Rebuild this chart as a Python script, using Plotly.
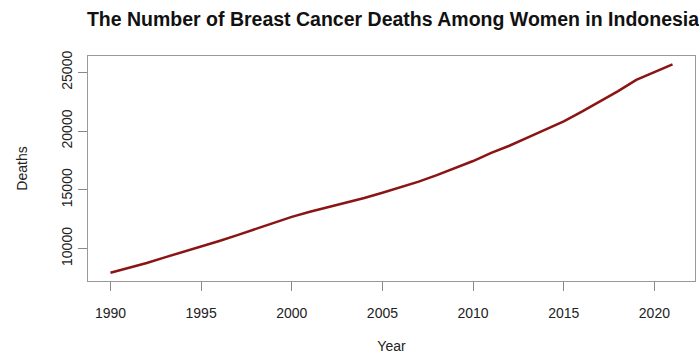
import plotly.graph_objects as go

years = list(range(1990, 2022))
deaths = [7950, 8350, 8770, 9250, 9700, 10150, 10650, 11150, 11650, 12200,
          12700, 13130, 13500, 13900, 14300, 14750, 15200, 15700, 16250, 16850,
          17450, 18150, 18750, 19450, 20150, 20820, 21650, 22500, 23400, 24350,
          25020, 25680]
x_ticks = [1990, 1995, 2000, 2005, 2010, 2015, 2020]
y_ticks = [10000, 15000, 20000, 25000]

span_x = years[-1] - years[0]
span_y = max(deaths) - min(deaths)
x_range = [years[0] - 0.04 * span_x, years[-1] + 0.04 * span_x]
y_range = [min(deaths) - 0.04 * span_y, max(deaths) + 0.04 * span_y]

fig = go.Figure()
fig.add_trace(go.Scatter(x=years, y=deaths, mode="lines",
                         line=dict(color="#8B1414", width=2.5), showlegend=False))

axis_common = dict(showline=True, mirror=True, linecolor="#999999", linewidth=1,
                   ticks="outside", ticklen=9, tickcolor="#888888", tickwidth=1,
                   showgrid=False, zeroline=False, tickformat="d",
                   tickfont=dict(family="Liberation Sans, Arial", size=14, color="#222222"))

fig.update_layout(
    width=699, height=358,
    margin=dict(l=88, r=4, t=56, b=77),
    paper_bgcolor="white", plot_bgcolor="white",
    title=dict(text="<b>The Number of Breast Cancer Deaths Among Women in Indonesia</b>",
               x=393 / 699, xanchor="center", y=1 - 19 / 358, yanchor="middle",
               font=dict(family="Liberation Sans, Arial", size=19.5, color="#111111")),
    xaxis=dict(range=x_range, tickvals=x_ticks, ticklabelstandoff=10, **axis_common,
               title=dict(text="Year", standoff=21,
                          font=dict(family="Liberation Sans, Arial", size=14, color="#222222"))),
    yaxis=dict(range=y_range, tickvals=y_ticks, tickangle=-90, **axis_common,
               title=dict(text="Deaths", standoff=28,
                          font=dict(family="Liberation Sans, Arial", size=14, color="#222222"))),
)

fig.write_html("out.html")
